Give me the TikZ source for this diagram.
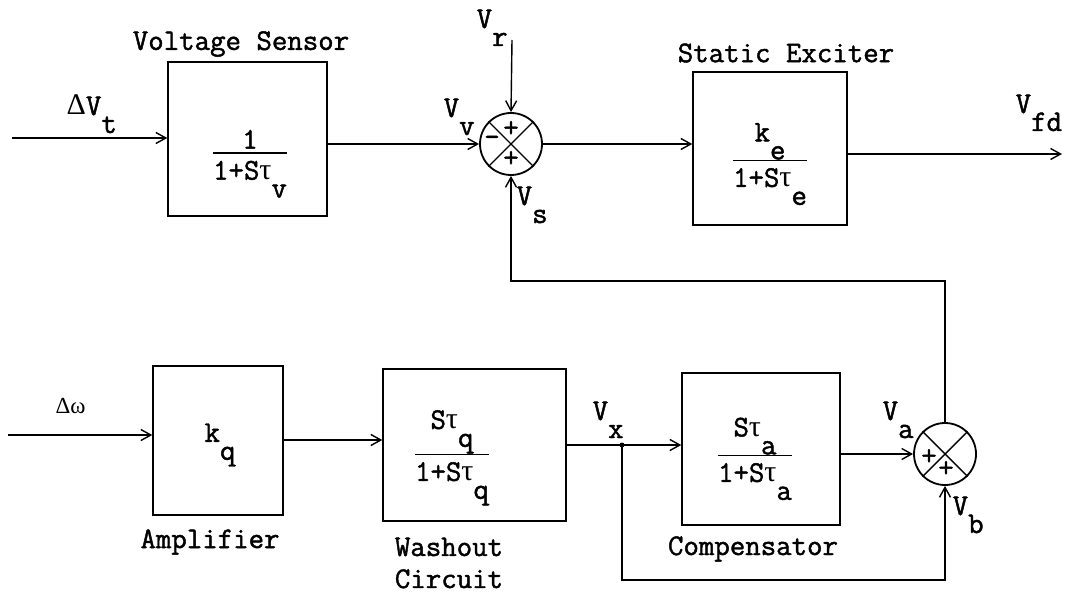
\documentclass[tikz,border=0pt]{standalone}
\usepackage{fontspec}
\newfontfamily\tw{Latin Modern Mono}[FakeBold=1.5]
\newfontfamily\grk{Liberation Serif}
\usetikzlibrary{arrows.meta,calc}
\newcommand{\lo}[1]{\raisebox{-0.6em}{#1}}
\newcommand{\tu}{{\grk τ}}
\setlength{\arrayrulewidth}{1.3pt}
\begin{document}
\begin{tikzpicture}[x=1pt,y=-1pt,
  line width=1.4pt,
  arr/.style={-{Straight Barb[length=10pt,width=11pt,line width=1.4pt]}},
  blk/.style={draw,line width=1.4pt,inner sep=0pt},
  sumj/.style={draw,circle,line width=1.8pt,minimum size=62pt,inner sep=0pt},
  lbl/.style={font=\tw\fontsize{30}{32}\selectfont,inner sep=0pt},
  sig/.style={font=\tw\fontsize{30}{32}\selectfont,inner sep=0pt,anchor=base west},
  frac/.style={font=\tw\fontsize{30}{32}\selectfont,inner sep=0pt},
  pm/.style={font=\tw\fontsize{30}{32}\selectfont,inner sep=0pt}
]
\useasboundingbox (0,0) rectangle (1067,596);
% blocks
\node[blk,minimum width=159pt,minimum height=154pt] (vs) at (247.5,139) {};
\node[blk,minimum width=154pt,minimum height=153pt] (se) at (770,148.5) {};
\node[blk,minimum width=130pt,minimum height=149pt] (amp) at (218,440.5) {};
\node[blk,minimum width=183pt,minimum height=152pt] (wo) at (474.5,445) {};
\node[blk,minimum width=158pt,minimum height=152pt] (cp) at (761,449) {};
% summing junctions
\node[sumj] (s1) at (511,144) {};
\node[sumj] (s2) at (945,454) {};
\draw (s1.north west) -- (s1.south east) (s1.north east) -- (s1.south west);
\draw (s2.north west) -- (s2.south east) (s2.north east) -- (s2.south west);
\node[pm] (s1t) at ($(s1.center)+(0,-15)$) {+};
\node[pm] (s1l) at ($(s1.center)+(-19,-3)$) {-};
\node[pm] (s1b) at ($(s1.center)+(0,15)$) {+};
\node[pm] (s2l) at ($(s2.center)+(-16,3)$) {+};
\node[pm] (s2b) at ($(s2.center)+(1,15)$) {+};
% fractions
\node[frac] (f1) at (250,162) {\begin{tabular}{@{}c@{}}1\\[-6pt]\hline\rule{0pt}{26pt}1+S\tu\lo{v}\end{tabular}};
\node[frac] (fe) at (770,162) {\begin{tabular}{@{}c@{}}k\lo{e}\\[3pt]\hline\rule{0pt}{26pt}1+S\tu\lo{e}\end{tabular}};
\node[frac] (fq) at (452,456) {\begin{tabular}{@{}c@{}}S\tu\lo{q}\\[3pt]\hline\rule{0pt}{26pt}1+S\tu\lo{q}\end{tabular}};
\node[frac] (fa) at (755,457) {\begin{tabular}{@{}c@{}}S\tu\lo{a}\\[3pt]\hline\rule{0pt}{26pt}1+S\tu\lo{a}\end{tabular}};
\node[frac] (kq) at (220,445) {k\lo{q}};
% block labels
\node[lbl] (lvs) at (241,44) {Voltage Sensor};
\node[lbl] (lse) at (786,53) {Static Exciter};
\node[lbl] (lamp) at (210,542) {Amplifier};
\node[lbl,align=left] (lwo) at (449,563) {Washout\\Circuit};
\node[lbl] (lcp) at (753,549) {Compensator};
% signal labels
\node[sig] (ldvt) at (66,115) {{\grk Δ}V\lo{t}};
\node[sig] (lvfd) at (1015,113) {V\lo{fd}};
\node[sig] (lvr) at (476,28) {V\lo{r}};
\node[sig] (lvv) at (443,117) {V\lo{v}};
\node[sig] (lvs2) at (516,205) {V\lo{s}};
\node[sig] (lvx) at (592,420) {V\lo{x}};
\node[sig] (lva) at (882,420) {V\lo{a}};
\node[sig] (lvb) at (952,515) {V\lo{b}};
\node[sig,font=\grk\fontsize{23}{25}\selectfont] (ldw) at (55,413) {Δω};
% coordinates
\coordinate (in1) at (12,138);
\coordinate (vr) at (512,40);
\coordinate (out) at (1062,154);
\coordinate (fb) at (0,281);
\coordinate (in2) at (8,435);
\coordinate (l2) at (0,440);
\coordinate (vx) at (622,445);
\coordinate (by) at (0,580);
% connectors
\draw[arr] (in1) -- (vs.west |- in1);
\draw[arr] (vs.east |- s1.center) -- (s1.west);
\draw[arr] (vr) -- (s1.north);
\draw[arr] (s1.east) -- (se.west |- s1.center);
\draw[arr] (se.east |- out) -- (out);
\draw[arr] (s2.north) -- (s2.north |- fb) -| (s1.south);
\draw[arr] (in2) -- (amp.west |- in2);
\draw[arr] (amp.east |- l2) -- (wo.west |- l2);
\draw (wo.east |- vx) -- (vx);
\draw[arr] (vx) -- (cp.west |- vx);
\draw[arr] (cp.east |- s2.center) -- (s2.west);
\draw[arr] (vx) -- (vx |- by) -| (s2.south);
\fill (vx) circle (2.5pt);
\end{tikzpicture}
\end{document}
